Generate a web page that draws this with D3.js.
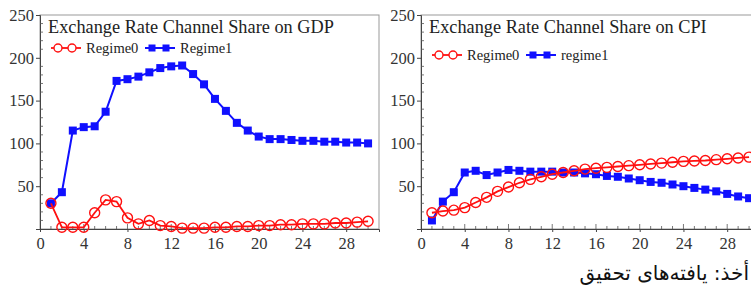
<!DOCTYPE html>
<html><head><meta charset="utf-8">
<script src="https://cdn.jsdelivr.net/npm/d3@7"></script>
<style>body{margin:0;background:#fff}svg{display:block}</style>
</head><body>
<svg id="c" width="751" height="287"></svg>
<script>
const periods = d3.range(1, 31);
const gdpRegime0 = [30,2,2,2,19,34,32,13,6,10,4,3,1,1,1,2,2,3,3,4,4,5,5,6,6,6,7,7,8,9];
const gdpRegime1 = [30,43,115,119,120,137,173,175,178,183,188,190,191,181,169,152,138,124,115,108,105,105,104,103,103,102,102,101,101,100];
const cpiRegime0 = [19,21,22,25,31,37,44,49,54,58,61,64,66,68,70,71,72,73,74,75,76,77,78,79,79.5,80,81,82,83,84];
const cpiRegime1 = [10,32,43,66,68,63,66,69,68,67,67,67,66,66,65,64,62,61,59,57,55,54,52,50,48,46,44,41,38,36];
const xTicks = [0,4,8,12,16,20,24,28];
const yTicks = [50,100,150,200,250];
const titles = ["Exchange Rate Channel Share on GDP","Exchange Rate Channel Share on CPI"];
const legendNames = [["Regime0","Regime1"],["Regime0","regime1"]];
const source = "أخذ: یافته‌های تحقیق";

const svg = d3.select("#c");
const serif = "'Liberation Serif','Times New Roman',serif";

function panel(left, legendY, title, names, s0, s1) {
  const x = d3.scaleLinear().domain([0, 31]).range([left, left + 339]);
  const y = d3.scaleLinear().domain([0, 250]).range([229, 15]);
  const g = svg.append("g");
  g.append("rect").attr("x", x(0)).attr("y", y(250)).attr("width", x(31)-x(0)).attr("height", y(0)-y(250))
    .attr("fill", "none").attr("stroke", "#999").attr("stroke-width", 1);
  const ya = g.append("g").attr("transform", `translate(${x(0)},0)`)
    .call(d3.axisLeft(y).tickValues(yTicks).tickSize(4).tickPadding(2));
  ya.select(".domain").attr("stroke", "#444");
  ya.selectAll("line").attr("stroke", "#444");
  ya.selectAll("text").attr("font-family", serif).attr("font-size", 16.5).attr("fill", "#333");
  g.append("g").selectAll("line").data(d3.range(10, 250, 10).filter(v => v % 50 !== 0)).join("line")
    .attr("x1", x(0)).attr("x2", x(0) + 3).attr("y1", d => y(d)).attr("y2", d => y(d))
    .attr("stroke", "#555").attr("stroke-width", 0.8);
  const xa = g.append("g").attr("transform", `translate(0,${y(0)})`)
    .call(d3.axisBottom(x).tickValues(xTicks).tickSize(3).tickPadding(5));
  xa.select(".domain").attr("stroke", "#444");
  xa.selectAll("line").attr("stroke", "#444");
  xa.selectAll("text").attr("font-family", serif).attr("font-size", 16.5).attr("fill", "#333");
  g.append("g").selectAll("line").data(d3.range(1, 31)).join("line")
    .attr("x1", d => x(d)).attr("x2", d => x(d)).attr("y1", y(0)).attr("y2", d => y(0) - (d % 4 === 0 ? 5 : 3))
    .attr("stroke", "#555").attr("stroke-width", 0.8);

  const line = d3.line().x((d, i) => x(periods[i])).y(d => y(d));
  g.append("path").datum(s1).attr("d", line).attr("fill", "none").attr("stroke", "#1010ff").attr("stroke-width", 2);
  g.append("g").selectAll("rect").data(s1).join("rect")
    .attr("x", (d, i) => x(periods[i]) - 4).attr("y", d => y(d) - 4).attr("width", 8).attr("height", 8).attr("fill", "#1010ff");
  g.append("path").datum(s0).attr("d", line).attr("fill", "none").attr("stroke", "#ff1010").attr("stroke-width", 1.8);
  g.append("g").selectAll("circle").data(s0).join("circle")
    .attr("cx", (d, i) => x(periods[i])).attr("cy", d => y(d)).attr("r", 5)
    .attr("fill", "none").attr("stroke", "#ff1010").attr("stroke-width", 1.4);

  g.append("text").attr("x", x(0) + 8).attr("y", 33).attr("font-family", serif).attr("font-size", 18.3)
    .attr("fill", "#222").text(title);
  const lx = x(0) + 11;
  g.append("line").attr("x1", lx).attr("x2", lx + 30).attr("y1", legendY).attr("y2", legendY).attr("stroke", "#ff1010").attr("stroke-width", 1.8);
  [lx + 7, lx + 21].forEach(cx => g.append("circle").attr("cx", cx).attr("cy", legendY).attr("r", 4)
    .attr("fill", "#fff").attr("stroke", "#ff1010").attr("stroke-width", 1.4));
  g.append("text").attr("x", lx + 35).attr("y", legendY + 5).attr("font-family", serif).attr("font-size", 14.5).attr("fill", "#222").text(names[0]);
  const bx = lx + 94;
  g.append("line").attr("x1", bx).attr("x2", bx + 30).attr("y1", legendY).attr("y2", legendY).attr("stroke", "#1010ff").attr("stroke-width", 2);
  [bx + 7, bx + 21].forEach(cx => g.append("rect").attr("x", cx - 3.5).attr("y", legendY - 3.5).attr("width", 7).attr("height", 7).attr("fill", "#1010ff"));
  g.append("text").attr("x", bx + 35).attr("y", legendY + 5).attr("font-family", serif).attr("font-size", 14.5).attr("fill", "#222").text(names[1]);
}

panel(40, 48, titles[0], legendNames[0], gdpRegime0, gdpRegime1);
panel(421, 55, titles[1], legendNames[1], cpiRegime0, cpiRegime1);

svg.append("text").attr("x", 749).attr("y", 280).attr("text-anchor", "start").attr("direction", "rtl")
  .attr("font-family", "'DejaVu Sans',sans-serif").attr("font-size", 20).attr("fill", "#111").text(source);
</script>
</body></html>
